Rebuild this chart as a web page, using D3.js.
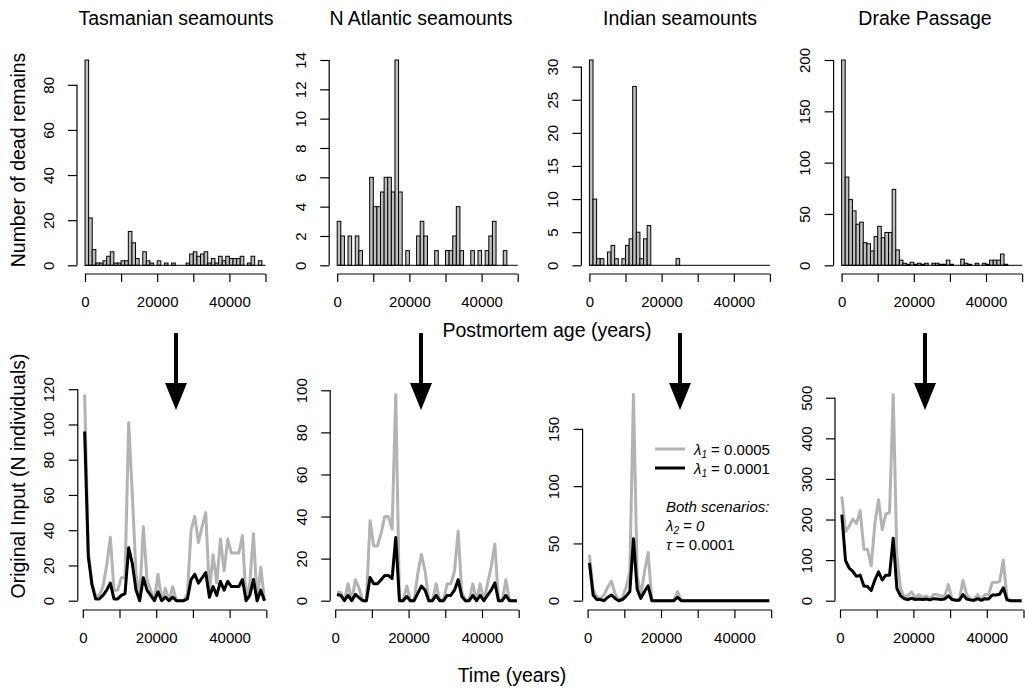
<!DOCTYPE html>
<html>
<head>
<meta charset="utf-8">
<script src="https://cdn.jsdelivr.net/npm/d3@7"></script>
<style>
  body { margin: 0; background: #fff; }
  svg { display: block; }
  text { font-family: "Liberation Sans", Arial, Helvetica, sans-serif; fill: #000; }
</style>
</head>
<body>
<svg id="chart" width="1025" height="688"></svg>
<script>
// region names (panel titles)
const regions = ['Tasmanian seamounts', 'N Atlantic seamounts', 'Indian seamounts', 'Drake Passage'];

// histogram counts, 1000-year bins from 0 to 50000
const tasHist = [91,21,7,1,1,2,4,6,1,1, 2,2,15,10,3,0,6,2,1,0, 2,0,1,0,1,0,0,0,1,5, 6,4,5,6,1,3,1,4,2,4, 3,3,3,4,0,1,4,0,2,0];
const atlHist = [3,2,0,2,0,2,1,0,0,6, 4,4,5,6,6,5,14,5,0,1, 0,0,2,3,2,0,0,1,0,0, 1,1,2,4,1,0,0,1,0,1, 0,1,2,3,0,0,1,0,0,0];
const indHist = [31,10,1,1,0,2,3,1,0,1, 3,4,27,5,1,4,6,0,0,0, 0,0,0,0,1,0,0,0,0,0, 0,0,0,0,0,0,0,0,0,0, 0,0,0,0,0,0,0,0,0,0];
const drkHist = [200,86,64,53,40,42,22,21,14,28, 38,27,32,32,74,15,5,2,1,3, 1,2,1,2,0,2,2,1,1,5, 1,0,0,6,2,1,0,2,0,2, 1,5,5,5,11,1,0,0,0,0];

// reconstructed original input, lambda1 = 0.0005 (grey) and 0.0001 (black)
const tasHi = [117,28,10,3,3,8,20,36,6,6, 13,13,101,60,15,2,42,12,6,0, 15,0,7,0,8,0,0,0,4,40, 48,33,42,50,5,26,10,35,17,35, 27,27,27,37,0,10,38,0,19,0];
const tasLo = [96,25,9,1,1,3,6,10,1,1, 3,4,30,21,6,0,13,6,3,0, 5,0,2,0,2,0,0,0,1,12, 15,10,13,16,2,8,3,11,6,11, 8,8,8,12,0,3,12,0,6,0];
const atlHi = [4,4,0,8,0,10,6,0,0,38, 26,26,32,40,40,34,98,0,0,7, 0,0,13,22,14,0,0,8,0,0, 8,8,14,33,4,0,0,8,0,8, 0,8,16,27,0,0,10,0,0,0];
const atlLo = [3,2.5,0,2.5,0,3,1.5,0,0,11, 8,8,10,12,12,10.5,30,0,0,2, 0,0,3.5,7,5,0,0,2.5,0,0, 2.5,2.5,5,10,2,0,0,2.5,0,2.5, 0,2.5,5,8.5,0,0,2.5,0,0,0];
const indHi = [40,10,3,2,5,12,17,6,0,3, 12,25,180,22,5,25,42,0,0,0, 0,0,0,0,8,0,0,0,0,0, 0,0,0,0,0,0,0,0,0,0, 0,0,0,0,0,0,0,0,0,0];
const indLo = [33,5,1,1,0,3,5,2,0,1, 4,8,54,10,2,8,13,0,0,0, 0,0,0,0,3,0,0,0,0,0, 0,0,0,0,0,0,0,0,0,0, 0,0,0,0,0,0,0,0,0,0];
const drkHi = [257,170,183,201,190,222,127,127,86,190, 249,175,214,217,508,110,30,10,12,22, 8,15,8,12,5,15,15,12,10,40, 5,2,3,50,15,5,2,15,3,15, 15,45,45,47,100,5,0,0,0,0];
const drkLo = [212,99,80,72,60,63,36,35,25,51, 71,51,63,63,154,30,12,5,3,6, 3,4,3,4,2,5,4,3,4,12, 3,1,1,15,4,2,1,5,1,5, 4,14,14,16,32,2,0,0,0,0];

// axis ticks
const histTicks = [[0,20,40,60,80], [0,2,4,6,8,10,12,14], [0,5,10,15,20,25,30], [0,50,100,150,200]];
const inputTicks = [[0,20,40,60,80,100,120], [0,20,40,60,80,100], [0,50,100,150], [0,100,200,300,400,500]];
const xTicks = [0,10000,20000,30000,40000,50000];
const xLabels = [0,20000,40000];
const binWidth = 1000;

const hists = [tasHist, atlHist, indHist, drkHist];
const highs = [tasHi, atlHi, indHi, drkHi];
const lows = [tasLo, atlLo, indLo, drkLo];

const svg = d3.select('#chart');
const arrowX = [176, 421, 680, 925];

function yAxis(g, y, ticks, ax) {
	g.attr('transform', 'translate(' + ax + ',0)')
		.call(d3.axisLeft(y).tickValues(ticks).tickSize(9).tickFormat(d3.format('d')));
	g.select('.domain').remove();
	g.selectAll('.tick line').attr('stroke', '#000').attr('stroke-width', 1.2);
	g.selectAll('.tick text')
		.attr('transform', 'rotate(-90)')
		.attr('x', 0)
		.attr('y', -23.5)
		.attr('dy', null)
		.attr('text-anchor', 'middle')
		.style('font-size', '15px');
	g.append('line')
		.attr('y1', y(ticks[0])).attr('y2', y(ticks[ticks.length - 1]))
		.attr('stroke', '#000').attr('stroke-width', 1.2);
}

function xAxis(g, x, ay) {
	g.attr('transform', 'translate(0,' + ay + ')')
		.call(d3.axisBottom(x).tickValues(xTicks).tickSize(8).tickPadding(14.7)
			.tickFormat(d => xLabels.includes(d) ? d : ''));
	g.select('.domain').remove();
	g.selectAll('.tick line').attr('stroke', '#000').attr('stroke-width', 1.2);
	g.selectAll('.tick text').style('font-size', '15px');
	g.append('line')
		.attr('x1', x(xTicks[0])).attr('x2', x(xTicks[xTicks.length - 1]))
		.attr('stroke', '#000').attr('stroke-width', 1.2);
}

regions.forEach((name, k) => {
	// top row: histograms of postmortem ages
	const x0 = 85 + 252.2 * k;
	const xTop = d3.scaleLinear().domain([0, 50000]).range([x0, x0 + 180.5]);
	const yTop = d3.scaleLinear().domain([0, d3.max(hists[k])]).range([265.3, 60]);
	const bins = hists[k].map((v, i) => ({ start: i * binWidth, count: v }));

	const top = svg.append('g');
	top.selectAll('rect.bar')
		.data(bins.filter(d => d.count > 0))
		.enter()
		.append('rect')
		.classed('bar', true)
		.attr('x', d => xTop(d.start))
		.attr('width', d => xTop(d.start + binWidth) - xTop(d.start))
		.attr('y', d => yTop(d.count))
		.attr('height', d => yTop(0) - yTop(d.count))
		.attr('fill', '#bebebe')
		.attr('stroke', '#000')
		.attr('stroke-width', 1);
	// flat baseline under empty bins
	top.append('line')
		.attr('x1', xTop(0)).attr('x2', xTop(50000))
		.attr('y1', yTop(0)).attr('y2', yTop(0))
		.attr('stroke', '#000').attr('stroke-width', 1);

	yAxis(top.append('g'), yTop, histTicks[k], x0 - 8);
	xAxis(top.append('g'), xTop, 274);

	top.append('text')
		.attr('x', arrowX[k])
		.attr('y', 25)
		.attr('text-anchor', 'middle')
		.style('font-size', '19.5px')
		.text(name);

	// bottom row: reconstructed original input
	const b0 = 82.8 + 252.4 * k;
	const xBot = d3.scaleLinear().domain([0, 50000]).range([b0, b0 + 183.5]);
	const yBot = d3.scaleLinear().domain([0, d3.max(highs[k])]).range([600.7, 394.5]);
	const line = d3.line()
		.x((d, i) => xBot(i * binWidth + binWidth / 2))
		.y(d => yBot(d))
		.curve(d3.curveLinear);

	const bot = svg.append('g');
	yAxis(bot.append('g'), yBot, inputTicks[k], b0 - 5);
	xAxis(bot.append('g'), xBot, 610);

	bot.append('path')
		.datum(highs[k])
		.attr('d', line)
		.attr('fill', 'none')
		.attr('stroke', '#b3b3b3')
		.attr('stroke-width', 3)
		.attr('stroke-linejoin', 'round');
	bot.append('path')
		.datum(lows[k])
		.attr('d', line)
		.attr('fill', 'none')
		.attr('stroke', '#000')
		.attr('stroke-width', 3)
		.attr('stroke-linejoin', 'round');

	// arrow from histogram to reconstruction
	const ax = arrowX[k];
	svg.append('line')
		.attr('x1', ax).attr('x2', ax)
		.attr('y1', 333).attr('y2', 388)
		.attr('stroke', '#000').attr('stroke-width', 4);
	svg.append('path')
		.attr('d', 'M' + (ax - 11) + ',383L' + (ax + 11) + ',383L' + ax + ',410Z')
		.attr('fill', '#000');
});

// shared axis titles
svg.append('text')
	.attr('transform', 'translate(25,160) rotate(-90)')
	.attr('text-anchor', 'middle')
	.style('font-size', '19.5px')
	.text('Number of dead remains');
svg.append('text')
	.attr('transform', 'translate(25,476) rotate(-90)')
	.attr('text-anchor', 'middle')
	.style('font-size', '19.5px')
	.text('Original Input (N individuals)');
svg.append('text')
	.attr('x', 547).attr('y', 337)
	.attr('text-anchor', 'middle')
	.style('font-size', '19.5px')
	.text('Postmortem age (years)');
svg.append('text')
	.attr('x', 512).attr('y', 682)
	.attr('text-anchor', 'middle')
	.style('font-size', '19.5px')
	.text('Time (years)');

// legend in the Indian panel
const legend = svg.append('g');
const legendItems = [{ col: '#b3b3b3', val: '0.0005', y: 449 }, { col: '#000', val: '0.0001', y: 468 }];
legendItems.forEach(d => {
	legend.append('line')
		.attr('x1', 655).attr('x2', 685)
		.attr('y1', d.y).attr('y2', d.y)
		.attr('stroke', d.col).attr('stroke-width', 3);
	const t = legend.append('text')
		.attr('x', 694).attr('y', d.y + 5.5)
		.style('font-size', '15px');
	t.append('tspan').style('font-style', 'italic').text('λ');
	t.append('tspan').style('font-style', 'italic').style('font-size', '10px').attr('dy', 3).text('1');
	t.append('tspan').attr('dy', -3).text(' = ' + d.val);
});

const note = svg.append('text').style('font-size', '15px');
note.append('tspan').attr('x', 666).attr('y', 512).style('font-style', 'italic').text('Both scenarios:');
const l2 = note.append('tspan').attr('x', 666).attr('y', 531).style('font-style', 'italic');
l2.append('tspan').text('λ');
l2.append('tspan').style('font-size', '10px').attr('dy', 3).text('2');
l2.append('tspan').attr('dy', -3).text(' = 0');
note.append('tspan').attr('x', 666).attr('y', 550).style('font-style', 'italic').text('τ');
note.append('tspan').text(' = 0.0001');
</script>
</body>
</html>
